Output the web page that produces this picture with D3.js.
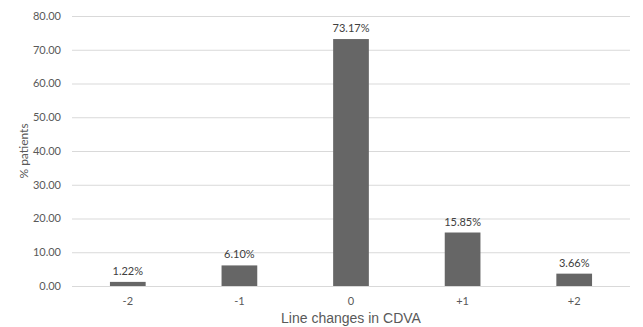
<!DOCTYPE html>
<html>
<head>
<meta charset="utf-8">
<script src="https://cdn.jsdelivr.net/npm/d3@7"></script>
<style>
  html, body { margin: 0; padding: 0; background: #fff; }
  svg { display: block; }
</style>
</head>
<body>
<svg id="chart" width="643" height="327"></svg>
<script>
const categories = ["-2", "-1", "0", "+1", "+2"];
const values = [1.22, 6.10, 73.17, 15.85, 3.66];
const yTicks = [0, 10, 20, 30, 40, 50, 60, 70, 80];

const svg = d3.select("#chart");
const margin = { left: 72, right: 13, top: 16, bottom: 41 };
const W = 643, H = 327;

const x = d3.scaleBand()
  .domain(categories)
  .range([margin.left, W - margin.right])
  .paddingInner(0.68)
  .paddingOuter(0.34);

const y = d3.scaleLinear()
  .domain([0, 80])
  .range([H - margin.bottom, margin.top]);

const labelFont = "Lato, 'Open Sans', sans-serif";

// Horizontal gridlines
svg.append("g")
  .selectAll("line")
  .data(yTicks)
  .join("line")
  .attr("x1", margin.left)
  .attr("x2", W - margin.right)
  .attr("y1", d => y(d) + 0.5)
  .attr("y2", d => y(d) + 0.5)
  .attr("stroke", "#d9d9d9")
  .attr("stroke-width", 1);

// Y axis tick labels
svg.append("g")
  .selectAll("text")
  .data(yTicks)
  .join("text")
  .attr("x", 61)
  .attr("y", d => y(d))
  .attr("dy", "0.35em")
  .attr("text-anchor", "end")
  .attr("font-family", labelFont)
  .attr("font-size", 11)
  .attr("fill", "#595959")
  .text(d => d.toFixed(2));

// Bars
svg.append("g")
  .selectAll("rect")
  .data(values)
  .join("rect")
  .attr("x", (d, i) => x(categories[i]))
  .attr("y", d => y(d))
  .attr("width", x.bandwidth())
  .attr("height", d => y(0) - y(d))
  .attr("fill", "#666666");

// Value labels above bars
svg.append("g")
  .selectAll("text")
  .data(values)
  .join("text")
  .attr("x", (d, i) => x(categories[i]) + x.bandwidth() / 2)
  .attr("y", d => y(d) - 7)
  .attr("text-anchor", "middle")
  .attr("font-family", labelFont)
  .attr("font-size", 11)
  .attr("fill", "#404040")
  .text(d => d.toFixed(2) + "%");

// X axis category labels
svg.append("g")
  .selectAll("text")
  .data(categories)
  .join("text")
  .attr("x", d => x(d) + x.bandwidth() / 2)
  .attr("y", 305)
  .attr("text-anchor", "middle")
  .attr("font-family", labelFont)
  .attr("font-size", 11)
  .attr("fill", "#595959")
  .text(d => d);

// Axis titles
svg.append("text")
  .attr("x", (margin.left + W - margin.right) / 2)
  .attr("y", 323)
  .attr("text-anchor", "middle")
  .attr("font-family", "'Liberation Sans', Arial, sans-serif")
  .attr("font-size", 14)
  .attr("fill", "#595959")
  .text("Line changes in CDVA");

svg.append("text")
  .attr("transform", "translate(28,151) rotate(-90)")
  .attr("text-anchor", "middle")
  .attr("font-family", labelFont)
  .attr("font-size", 12)
  .attr("fill", "#595959")
  .text("% patients");
</script>
</body>
</html>
